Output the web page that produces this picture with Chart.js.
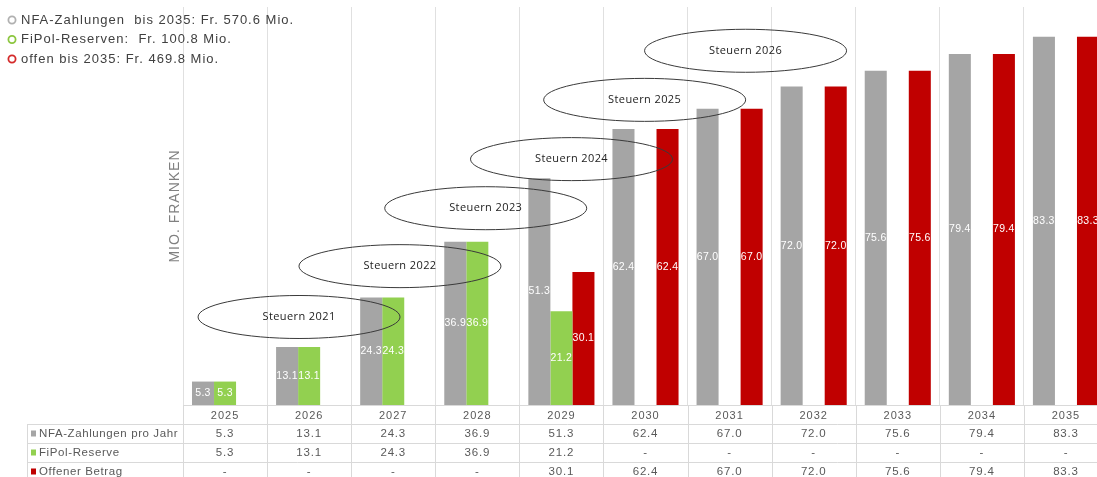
<!DOCTYPE html>
<html>
<head>
<meta charset="utf-8">
<script src="https://cdn.jsdelivr.net/npm/chart.js@4/dist/chart.umd.min.js"></script>
<style>
html, body { margin: 0; padding: 0; background: #fff; overflow: hidden; }
canvas { display: block; }
</style>
</head>
<body>
<canvas id="myChart" width="1108" height="477"></canvas>
<script>
var years = ['2025', '2026', '2027', '2028', '2029', '2030', '2031', '2032', '2033', '2034', '2035'];
var nfaZahlungen = [5.3, 13.1, 24.3, 36.9, 51.3, 62.4, 67.0, 72.0, 75.6, 79.4, 83.3];
var fipolReserve = [5.3, 13.1, 24.3, 36.9, 21.2, null, null, null, null, null, null];
var offenerBetrag = [null, null, null, null, 30.1, 62.4, 67.0, 72.0, 75.6, 79.4, 83.3];
var rowLabels = ['NFA-Zahlungen pro Jahr', 'FiPol-Reserve', 'Offener Betrag'];
var colors = ['#a5a5a5', '#92d050', '#c00000'];

var legendTexts = [
    'NFA-Zahlungen  bis 2035: Fr. 570.6 Mio.',
    'FiPol-Reserven:  Fr. 100.8 Mio.',
    'offen bis 2035: Fr. 469.8 Mio.'
];
var legendRing = ['#b0b0b0', '#8cc63f', '#d42a2a'];

// Ellipsen "Steuern ..." (Position in Kategorie-Index / Mio. Fr.)
var steuernLabels = ['Steuern 2021', 'Steuern 2022', 'Steuern 2023', 'Steuern 2024', 'Steuern 2025', 'Steuern 2026'];
var steuernX = [0.88, 2.08, 3.10, 4.12, 4.99, 6.19];
var steuernY = [19.9, 31.4, 44.5, 55.6, 69.0, 80.1];

var fmt = function (v) { return v === null ? '-' : v.toFixed(1); };

var spacing = {
    id: 'spacing',
    beforeDraw: function (chart) { chart.ctx.letterSpacing = '1px'; }
};

var barLabels = {
    id: 'barLabels',
    afterDatasetsDraw: function (chart) {
        var ctx = chart.ctx;
        ctx.save();
        ctx.letterSpacing = '0.3px';
        ctx.fillStyle = '#ffffff';
        ctx.font = '10.5px "Liberation Sans", Arial, sans-serif';
        ctx.textAlign = 'center';
        ctx.textBaseline = 'middle';
        chart.data.datasets.forEach(function (ds, i) {
            chart.getDatasetMeta(i).data.forEach(function (el, j) {
                if (ds.data[j] === null) return;
                ctx.fillText(fmt(ds.data[j]), el.x, (el.y + el.base) / 2);
            });
        });

        // ellipses
        var xs = chart.scales.x, ys = chart.scales.y;
        ctx.strokeStyle = '#3a3a3a';
        ctx.lineWidth = 1;
        ctx.fillStyle = '#222';
        ctx.letterSpacing = '0.4px';
        ctx.font = '11px "Open Sans", "Noto Sans", sans-serif';
        steuernLabels.forEach(function (t, i) {
            var cx = xs.getPixelForValue(0) + steuernX[i] * (xs.getPixelForValue(1) - xs.getPixelForValue(0));
            var cy = ys.getPixelForValue(steuernY[i]);
            ctx.beginPath();
            ctx.ellipse(cx, cy, 101, 21.5, 0, 0, Math.PI * 2);
            ctx.stroke();
            ctx.fillText(t, cx, cy);
        });
        ctx.restore();
    }
};

var tableAndLegend = {
    id: 'tableAndLegend',
    afterDraw: function (chart) {
        var ctx = chart.ctx;
        var xs = chart.scales.x;
        var ca = chart.chartArea;
        var step = xs.getPixelForValue(1) - xs.getPixelForValue(0);
        var rowH = 19;
        var tableLeft = 27;
        var bottom = chart.height;
        ctx.save();
        ctx.strokeStyle = '#d9d9d9';
        ctx.lineWidth = 1;
        // horizontal lines
        for (var r = 1; r <= 3; r++) {
            var yy = Math.round(ca.bottom + r * rowH) + 0.5;
            ctx.beginPath();
            ctx.moveTo(tableLeft, yy);
            ctx.lineTo(ca.right, yy);
            ctx.stroke();
        }
        // vertical lines
        for (var c = 0; c <= years.length; c++) {
            var xx = Math.round(xs.getPixelForValue(0) - step / 2 + c * step) + 0.5;
            ctx.beginPath();
            ctx.moveTo(xx, ca.bottom);
            ctx.lineTo(xx, bottom);
            ctx.stroke();
        }
        ctx.beginPath();
        ctx.moveTo(tableLeft + 0.5, ca.bottom + rowH);
        ctx.lineTo(tableLeft + 0.5, bottom);
        ctx.stroke();

        // values
        var rows = [nfaZahlungen, fipolReserve, offenerBetrag];
        ctx.font = '11.5px "Liberation Sans", Arial, sans-serif';
        ctx.textBaseline = 'middle';
        rows.forEach(function (row, r) {
            var cy = ca.bottom + rowH * (r + 1) + rowH / 2;
            ctx.fillStyle = '#595959';
            ctx.textAlign = 'center';
            ctx.letterSpacing = '0.8px';
            row.forEach(function (v, j) {
                ctx.fillText(fmt(v), xs.getPixelForValue(j), cy);
            });
            ctx.fillStyle = colors[r];
            ctx.fillRect(tableLeft + 4, cy - 3, 5, 6);
            ctx.fillStyle = '#595959';
            ctx.textAlign = 'left';
            ctx.letterSpacing = '0.6px';
            ctx.fillText(rowLabels[r], tableLeft + 12, cy);
        });

        // legend top left
        ctx.font = '13px "Liberation Sans", Arial, sans-serif';
        ctx.letterSpacing = '1px';
        legendTexts.forEach(function (t, i) {
            var ly = 20 + i * 19.5;
            ctx.beginPath();
            ctx.strokeStyle = legendRing[i];
            ctx.lineWidth = 1.8;
            ctx.arc(12, ly, 3.6, 0, Math.PI * 2);
            ctx.stroke();
            ctx.fillStyle = '#404040';
            ctx.textAlign = 'left';
            ctx.fillText(t, 21, ly);
        });
        ctx.restore();
    }
};

var ctx = document.getElementById('myChart').getContext('2d');
var chart = new Chart(ctx, {
    type: 'bar',
    data: {
        labels: years,
        datasets: [
            { label: rowLabels[0], data: nfaZahlungen, backgroundColor: colors[0] },
            { label: rowLabels[1], data: fipolReserve, backgroundColor: colors[1] },
            { label: rowLabels[2], data: offenerBetrag, backgroundColor: colors[2] }
        ]
    },
    options: {
        responsive: false,
        animation: false,
        layout: { padding: { left: 163, top: 7, right: 0, bottom: 0 } },
        datasets: { bar: { categoryPercentage: 0.786, barPercentage: 1.0 } },
        plugins: { legend: { display: false }, tooltip: { enabled: false } },
        scales: {
            x: {
                grid: { color: '#e0e0e0', drawTicks: false },
                border: { color: '#d9d9d9' },
                ticks: {
                    color: '#595959',
                    padding: 4,
                    font: { size: 11, family: '"Liberation Sans", Arial, sans-serif' }
                },
                afterFit: function (s) { s.height = 72; }
            },
            y: {
                min: 0,
                max: 90,
                grid: { display: false },
                border: { display: false },
                ticks: { display: false },
                title: {
                    display: true,
                    text: 'MIO. FRANKEN',
                    color: '#808080',
                    font: { size: 14, family: '"Liberation Sans", Arial, sans-serif' }
                },
                afterFit: function (s) { s.width = 20; }
            }
        }
    },
    plugins: [spacing, barLabels, tableAndLegend]
});
</script>
</body>
</html>
